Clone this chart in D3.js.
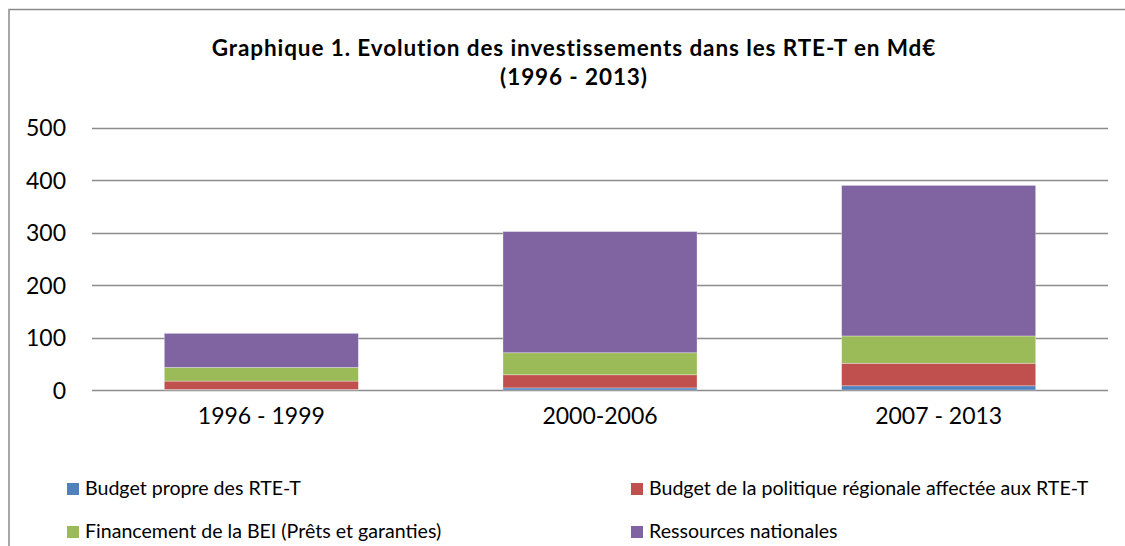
<!DOCTYPE html>
<html>
<head>
<meta charset="utf-8">
<script src="https://cdn.jsdelivr.net/npm/d3@7/dist/d3.min.js"></script>
<style>
  body { margin: 0; background: #fff; }
  text { font-family: Lato, "Open Sans", sans-serif; fill: #000; }
</style>
</head>
<body>
<script>
// Chart size
var w = 1125;
var h = 546;

// Data (Md€)
var periods = ["1996 - 1999", "2000-2006", "2007 - 2013"];
var seriesNames = [
    "Budget propre des RTE-T",
    "Budget de la politique régionale affectée aux RTE-T",
    "Financement de la BEI (Prêts et garanties)",
    "Ressources nationales"
];
var budgetPropre = [1, 4, 8];
var budgetRegional = [16, 25, 43];
var financementBEI = [26, 42, 52];
var ressourcesNationales = [65, 231, 287];
var yTicks = [0, 100, 200, 300, 400, 500];
var colors = ["#4F81BD", "#C0504D", "#9BBB59", "#8064A2"];

// Build rows for d3.stack
var keys = ["propre", "regional", "bei", "national"];
var rows = periods.map(function(p, i) {
    return {
        period: p,
        propre: budgetPropre[i],
        regional: budgetRegional[i],
        bei: financementBEI[i],
        national: ressourcesNationales[i]
    };
});
var stacked = d3.stack().keys(keys)(rows);

var svg = d3.select("body")
    .append("svg")
    .attr("width", w)
    .attr("height", h);

// Outer chart frame (right and bottom edges run off the picture)
svg.append("rect")
    .attr("x", 9)
    .attr("y", 9.5)
    .attr("width", 1130)
    .attr("height", 560)
    .attr("fill", "#fff")
    .attr("stroke", "#8a8a8a")
    .attr("stroke-width", 1.5);

// Scales
var x = d3.scaleBand()
    .domain(periods)
    .range([92, 1108])
    .paddingInner(0.427)
    .paddingOuter(0.2135);

var y = d3.scaleLinear()
    .domain([0, 500])
    .range([390, 127.7]);

// Gridlines
svg.append("g")
    .selectAll("line")
    .data(yTicks)
    .enter()
    .append("line")
    .attr("x1", 92)
    .attr("x2", 1108)
    .attr("y1", function(d) { return Math.round(y(d)) + 0.5; })
    .attr("y2", function(d) { return Math.round(y(d)) + 0.5; })
    .attr("stroke", "#8c8c8c")
    .attr("stroke-width", 1.6);

// Y axis labels
var yAxis = d3.axisLeft(y)
    .tickValues(yTicks)
    .tickSize(0)
    .tickPadding(0);
var gy = svg.append("g")
    .attr("transform", "translate(66,0)")
    .call(yAxis);
gy.select(".domain").remove();
gy.selectAll("text")
    .attr("font-size", "23px")
    .attr("dy", "0.36em")
    .style("font-family", "Lato, sans-serif")
    .attr("fill", "#000");

// Stacked bars
svg.append("g")
    .selectAll("g")
    .data(stacked)
    .enter()
    .append("g")
    .attr("fill", function(d, i) { return colors[i]; })
    .selectAll("rect")
    .data(function(d) { return d; })
    .enter()
    .append("rect")
    .attr("x", function(d) { return x(d.data.period); })
    .attr("width", x.bandwidth())
    .attr("y", function(d) { return y(d[1]); })
    .attr("height", function(d) { return y(d[0]) - y(d[1]); })
    .attr("stroke", "rgba(255,255,255,0.45)")
    .attr("stroke-width", 0.7);

// X axis labels
var xAxis = d3.axisBottom(x).tickSize(0).tickPadding(0);
var gx = svg.append("g")
    .attr("transform", "translate(0,408)")
    .call(xAxis);
gx.select(".domain").remove();
gx.selectAll("text")
    .attr("font-size", "23px")
    .attr("dy", "0.71em")
    .style("font-family", "Lato, sans-serif")
    .attr("fill", "#000");

// Title
var title = svg.append("text")
    .attr("x", 574)
    .attr("text-anchor", "middle")
    .attr("font-weight", "bold")
    .attr("font-size", "22.5px")
    .attr("letter-spacing", "0.9px");
title.append("tspan").attr("x", 574).attr("y", 56)
    .text("Graphique 1. Evolution des investissements dans les RTE-T en Md€");
title.append("tspan").attr("x", 574).attr("y", 85)
    .text("(1996 - 2013)");

// Legend
var legendPos = [[67, 483], [631, 483], [67, 526], [631, 526]];
var legend = svg.append("g")
    .selectAll("g")
    .data(seriesNames)
    .enter()
    .append("g")
    .attr("transform", function(d, i) {
        return "translate(" + legendPos[i][0] + "," + legendPos[i][1] + ")";
    });
legend.append("rect")
    .attr("width", 12)
    .attr("height", 12)
    .attr("fill", function(d, i) { return colors[i]; });
legend.append("text")
    .attr("x", 18)
    .attr("y", 12)
    .attr("font-size", "19.6px")
    .text(function(d) { return d; });
</script>
</body>
</html>
